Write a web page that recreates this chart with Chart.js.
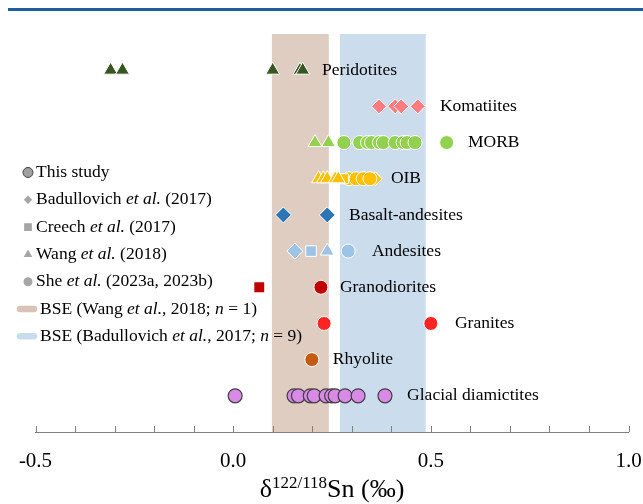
<!DOCTYPE html>
<html lang="en">
<head>
  <meta charset="UTF-8" />
  <title>Sn isotopes</title>
  <script src="https://cdn.jsdelivr.net/npm/chart.js"></script>
  <style>
    body { margin: 0; background: #fff; }
    canvas { display: block; }
  </style>
</head>
<body>
  <canvas id="snChart" width="643" height="504"></canvas>
  <script>
    // rows, top to bottom
    const rowNames = ['Peridotites', 'Komatiites', 'MORB', 'OIB', 'Basalt-andesites',
      'Andesites', 'Granodiorites', 'Granites', 'Rhyolite', 'Glacial diamictites'];

    // delta 122/118 Sn values (permil)
    const peridotitesTri = [-0.31, -0.28, 0.10, 0.169, 0.176];
    const komatiitesDia = [0.369, 0.41, 0.425, 0.467];
    const morbTri = [0.207, 0.241];
    const morbCirc = [0.28, 0.32, 0.34, 0.35, 0.37, 0.38, 0.41, 0.43, 0.44, 0.46, 0.54];
    const oibTri = [0.216, 0.228, 0.238, 0.258, 0.266];
    const oibSq = [0.279];
    const oibCirc = [0.293, 0.311, 0.329, 0.346];
    const oibDia = [0.359];
    const basaltAndDia = [0.127, 0.238];
    const andesitesDia = [0.156];
    const andesitesSq = [0.197];
    const andesitesTri = [0.238];
    const andesitesCirc = [0.291];
    const granodioritesSq = [0.066];
    const granodioritesCirc = [0.222];
    const granitesCirc = [0.230, 0.500];
    const rhyoliteCirc = [0.199];
    const diamictitesCirc = [0.005, 0.154, 0.165, 0.195, 0.205, 0.235, 0.249, 0.258, 0.283, 0.316, 0.384];

    // BSE ranges
    const bseWang = [0.098, 0.242];
    const bseBadullovich = [0.27, 0.487];

    const xTickLabels = ['-0.5', '0.0', '0.5', '1.0'];

    // where each row label starts (x units)
    const rowLabelX = [0.225, 0.523, 0.594, 0.399, 0.293, 0.351, 0.270, 0.561, 0.252, 0.440];

    const legendItems = [
      [['This study', false]],
      [['Badullovich ', false], ['et al.', true], [' (2017)', false]],
      [['Creech ', false], ['et al.', true], [' (2017)', false]],
      [['Wang ', false], ['et al.', true], [' (2018)', false]],
      [['She ', false], ['et al.', true], [' (2023a, 2023b)', false]],
      [['BSE (Wang ', false], ['et al.', true], [', 2018; ', false], ['n', true], [' = 1)', false]],
      [['BSE (Badullovich ', false], ['et al.', true], [', 2017; ', false], ['n', true], [' = 9)', false]]
    ];

    const SERIF = '"Liberation Serif", "Times New Roman", serif';

    function rowY(name) { return 10 - rowNames.indexOf(name); }

    function makeSet(vals, row, style, r, color, border, bw) {
      return {
        data: vals.map(v => ({ x: v, y: rowY(row) })),
        pointStyle: style,
        pointRadius: r,
        backgroundColor: color,
        borderColor: border || '#ffffff',
        borderWidth: bw === undefined ? 1 : bw,
        showLine: false
      };
    }

    const datasets = [
      makeSet(peridotitesTri, 'Peridotites', 'triangle', 8, '#375623'),
      makeSet(komatiitesDia, 'Komatiites', 'rectRot', 7.5, '#ff7c80'),
      makeSet(morbTri, 'MORB', 'triangle', 8, '#92d050'),
      makeSet(morbCirc, 'MORB', 'circle', 7, '#92d050'),
      makeSet(oibTri, 'OIB', 'triangle', 8, '#ffc000'),
      makeSet(oibSq, 'OIB', 'rect', 7, '#ffc000'),
      makeSet(oibCirc, 'OIB', 'circle', 7, '#ffc000'),
      makeSet(oibDia, 'OIB', 'rectRot', 7, '#ffc000'),
      makeSet(basaltAndDia, 'Basalt-andesites', 'rectRot', 8, '#2e75b6'),
      makeSet(andesitesDia, 'Andesites', 'rectRot', 8, '#9dc3e6'),
      makeSet(andesitesSq, 'Andesites', 'rect', 7.5, '#9dc3e6'),
      makeSet(andesitesTri, 'Andesites', 'triangle', 8, '#9dc3e6'),
      makeSet(andesitesCirc, 'Andesites', 'circle', 7, '#9dc3e6'),
      makeSet(granodioritesSq, 'Granodiorites', 'rect', 7, '#c00000', '#c00000', 0),
      makeSet(granodioritesCirc, 'Granodiorites', 'circle', 7, '#c00000'),
      makeSet(granitesCirc, 'Granites', 'circle', 7, '#ff2424'),
      makeSet(rhyoliteCirc, 'Rhyolite', 'circle', 7, '#c55a11'),
      makeSet(diamictitesCirc, 'Glacial diamictites', 'circle', 7, '#d98ae6', '#404040', 1.2)
    ];

    function drawRich(ctx, parts, x, y, size) {
      ctx.textAlign = 'left';
      ctx.textBaseline = 'middle';
      for (const [txt, it] of parts) {
        ctx.font = (it ? 'italic ' : '') + size + 'px ' + SERIF;
        ctx.fillText(txt, x, y);
        x += ctx.measureText(txt).width;
      }
    }

    const decor = {
      id: 'decor',
      beforeDatasetsDraw(chart) {
        const { ctx, chartArea: a, scales: { x } } = chart;
        ctx.save();
        ctx.fillStyle = '#e0cdc1';
        ctx.fillRect(x.getPixelForValue(bseWang[0]), a.top, x.getPixelForValue(bseWang[1]) - x.getPixelForValue(bseWang[0]), a.bottom - a.top);
        ctx.fillStyle = '#cbdcec';
        ctx.fillRect(x.getPixelForValue(bseBadullovich[0]), a.top, x.getPixelForValue(bseBadullovich[1]) - x.getPixelForValue(bseBadullovich[0]), a.bottom - a.top);
        // minor ticks pointing up
        ctx.strokeStyle = '#808080';
        ctx.lineWidth = 1;
        for (let i = 0; i <= 15; i++) {
          const px = Math.round(x.getPixelForValue(-0.5 + i * 0.1)) + 0.5;
          ctx.beginPath();
          ctx.moveTo(px, a.bottom);
          ctx.lineTo(px, a.bottom - 6);
          ctx.stroke();
        }
        ctx.restore();
      },
      afterDraw(chart) {
        const { ctx, scales: { x, y } } = chart;
        ctx.save();
        // top rule
        ctx.fillStyle = '#1f5f9e';
        ctx.fillRect(8, 8, 635, 3);

        // row labels
        ctx.fillStyle = '#000';
        ctx.font = '17.5px ' + SERIF;
        ctx.textAlign = 'left';
        ctx.textBaseline = 'middle';
        rowNames.forEach((n, i) => {
          ctx.fillText(n, x.getPixelForValue(rowLabelX[i]), y.getPixelForValue(10 - i));
        });

        // legend
        const H = Chart.helpers;
        const ly0 = 172.5, step = 27.3;
        const marks = [
          { pointStyle: 'circle', radius: 5, fill: '#a0a0a0', stroke: '#404040', bw: 1 },
          { pointStyle: 'rectRot', radius: 4.2, fill: '#a6a6a6' },
          { pointStyle: 'rect', radius: 5.5, fill: '#a6a6a6' },
          { pointStyle: 'triangle', radius: 5, fill: '#a6a6a6' },
          { pointStyle: 'circle', radius: 4.5, fill: '#a6a6a6' }
        ];
        marks.forEach((m, i) => {
          ctx.fillStyle = m.fill;
          ctx.strokeStyle = m.stroke || m.fill;
          ctx.lineWidth = m.bw || 0;
          H.drawPoint(ctx, { pointStyle: m.pointStyle, radius: m.radius, rotation: 0, borderWidth: m.bw || 0 }, 28, ly0 + i * step);
        });
        ctx.lineCap = 'round';
        ctx.lineWidth = 6.5;
        [['#d8c3b6', 5], ['#c9dcee', 6]].forEach(([c, i]) => {
          ctx.strokeStyle = c;
          ctx.beginPath();
          ctx.moveTo(20, ly0 + i * step);
          ctx.lineTo(34, ly0 + i * step);
          ctx.stroke();
        });
        ctx.fillStyle = '#000';
        legendItems.forEach((parts, i) => {
          drawRich(ctx, parts, i < 5 ? 36 : 40, ly0 + i * step, 17.5);
        });

        // axis title
        const main = 26, sup = 17;
        const pieces = [['δ', main, 0], ['122/118', sup, -9], ['Sn (‰)', main, 0]];
        let w = 0;
        pieces.forEach(p => { ctx.font = p[1] + 'px ' + SERIF; w += ctx.measureText(p[0]).width; });
        let tx = 332 - w / 2;
        ctx.textBaseline = 'alphabetic';
        pieces.forEach(p => {
          ctx.font = p[1] + 'px ' + SERIF;
          ctx.fillText(p[0], tx, 497 + p[2]);
          tx += ctx.measureText(p[0]).width;
        });
        ctx.restore();
      }
    };

    new Chart(document.getElementById('snChart').getContext('2d'), {
      type: 'scatter',
      data: { datasets },
      options: {
        responsive: false,
        animation: false,
        layout: { padding: { top: 34, left: 35.5, right: 14.5, bottom: 0 } },
        plugins: { legend: { display: false }, tooltip: { enabled: false } },
        scales: {
          x: {
            type: 'linear',
            min: -0.5,
            max: 1.0,
            afterFit(s) {
              s.height = 72;
              s.paddingLeft = 0;
              s.paddingRight = 0;
            },
            ticks: {
              stepSize: 0.5,
              maxRotation: 0,
              padding: 9,
              color: '#000',
              font: { family: SERIF, size: 21 },
              callback: (v, i) => xTickLabels[i]
            },
            grid: { display: false },
            border: { display: true, color: '#808080', width: 1 }
          },
          y: { min: 0, max: 11, display: false }
        }
      },
      plugins: [decor]
    });
  </script>
</body>
</html>
